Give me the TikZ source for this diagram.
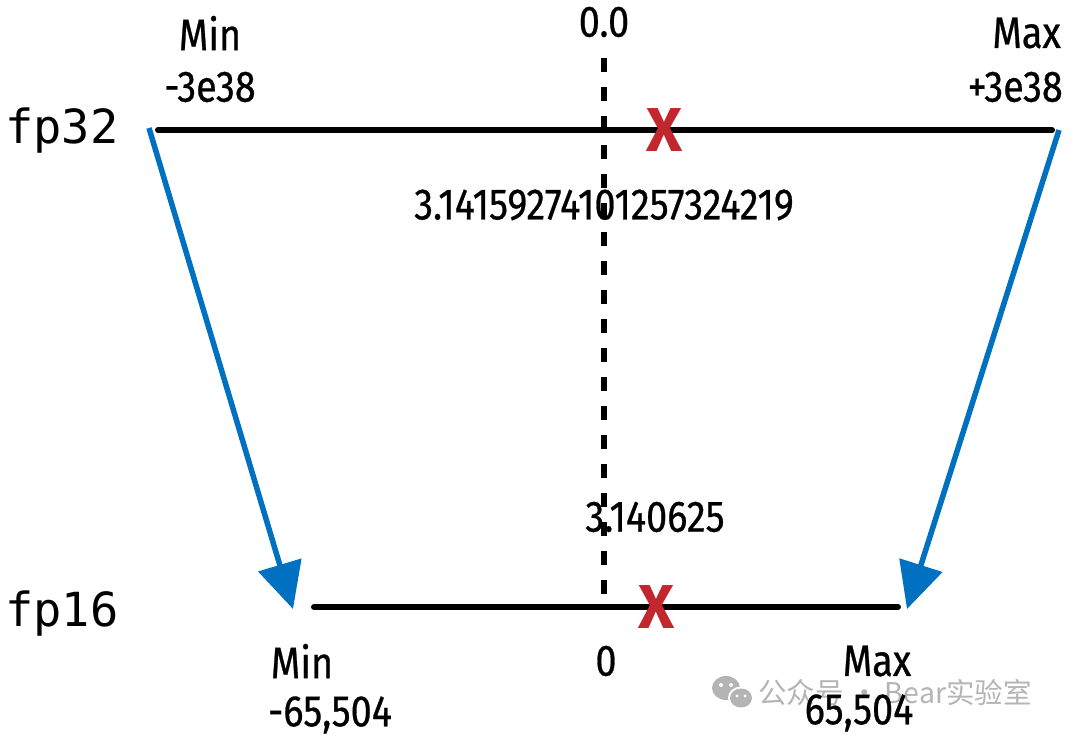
\documentclass[tikz,border=0pt]{standalone}
\usepackage{fontspec}
\setmainfont[FakeStretch=0.86,FakeBold=0.6]{Fira Sans}
\newfontfamily\xfont{Fira Sans}
\newfontfamily\monofont{DejaVu Sans Mono}
\newfontfamily\cjkfont{Noto Sans CJK SC}
\usetikzlibrary{arrows.meta}
\definecolor{arrowblue}{HTML}{0070C0}
\definecolor{crossred}{HTML}{C1272D}
\definecolor{wmgray}{HTML}{B4B4B4}
\begin{document}
\begin{tikzpicture}[x=1pt,y=-1pt,
  lbl/.style={font=\fontsize{44}{48}\selectfont, inner sep=0pt},
  typelbl/.style={font=\monofont\fontsize{47}{50}\selectfont, inner sep=0pt},
  axisline/.style={line width=6pt, line cap=round},
  zeroline/.style={line width=5.5pt, dash pattern=on 14pt off 15pt},
  mapping/.style={arrowblue, line width=5.5pt, -{Triangle[length=46pt,width=44pt]}},
  crossmark/.style={font=\xfont\fontsize{62}{64}\selectfont\bfseries, text=crossred, inner sep=0pt},
  watermark/.style={font=\cjkfont\fontsize{28.5}{30}\selectfont, text=wmgray, inner sep=0pt}
]
\useasboundingbox (0,0) rectangle (1080,738);

% watermark
\fill[wmgray] (726,688) ellipse (14 and 12);
\fill[white] (741,698) ellipse (13 and 11.5);
\fill[wmgray] (741,698) ellipse (11 and 9.5);
\fill[white] (721,685) circle (2) (731,685) circle (2) (737,696) circle (1.6) (745,696) circle (1.6);
\node[watermark, anchor=west] (wm) at (758,693) {公众号 · Bear实验室};

% coordinates
\coordinate (ztop) at (604,58);
\coordinate (zbot) at (604,605);
\coordinate (a32L) at (158,130);
\coordinate (a32R) at (1052,130);
\coordinate (a16L) at (314,607);
\coordinate (a16R) at (898,607);
\coordinate (sL) at (149,128);
\coordinate (tL) at (293,609);
\coordinate (sR) at (1059,130);
\coordinate (tR) at (907,609);

% zero dashed line
\draw[zeroline] (ztop) -- (zbot);

% axes
\draw[axisline] (a32L) -- (a32R);
\draw[axisline] (a16L) -- (a16R);

% crosses
\node[crossmark] (x32) at (665,130) {X};
\node[crossmark] (x16) at (657,607) {X};

% mapping arrows
\draw[mapping] (sL) -- (tL);
\draw[mapping] (sR) -- (tR);

% type labels
\node[typelbl] (fp32) at (62,131) {fp32};
\node[typelbl] (fp16) at (62,614) {fp16};

% fp32 labels
\node[lbl] (zero32) at (604,22) {0.0};
\node[lbl] (min32) at (210,33) {Min};
\node[lbl] (min32v) at (210,87) {-3e38};
\node[lbl, anchor=east] (max32) at (1061,33) {Max};
\node[lbl, anchor=east] (max32v) at (1063,87) {+3e38};
\node[lbl] (pi32) at (604,205) {3.14159274101257324219};

% fp16 labels
\node[lbl] (pi16) at (655,517) {3.140625};
\node[lbl] (min16) at (302,661) {Min};
\node[lbl] (min16v) at (330,715) {-65,504};
\node[lbl] (zero16) at (606,661) {0};
\node[lbl] (max16) at (877,661) {Max};
\node[lbl] (max16v) at (859,713) {65,504};
\end{tikzpicture}
\end{document}
